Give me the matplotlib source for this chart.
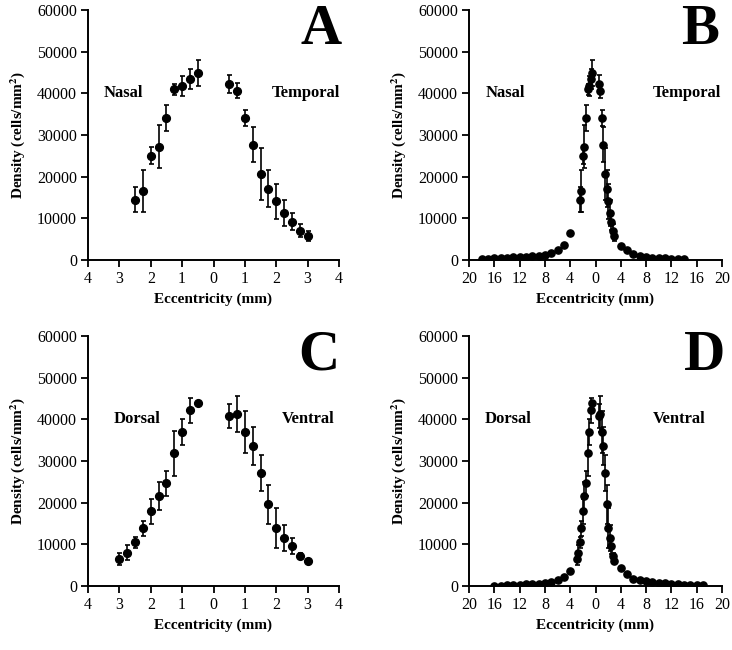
import matplotlib.pyplot as plt
from matplotlib.ticker import FuncFormatter

plt.rcParams['font.family'] = ['Liberation Serif', 'DejaVu Serif']
plt.rcParams['mathtext.fontset'] = 'stix'

# Panel A: nasal (negative) / temporal (positive), central retina
a_x = [-2.5, -2.25, -2.0, -1.75, -1.5, -1.25, -1.0, -0.75, -0.5,
       0.5, 0.75, 1.0, 1.25, 1.5, 1.75, 2.0, 2.25, 2.5, 2.75, 3.0]
a_y = [14480, 16560, 25040, 27200, 34080, 40960, 41760, 43360, 44960,
       42240, 40640, 34160, 27680, 20720, 17120, 14080, 11200, 9200, 7040, 5760]
a_err = [3000, 5000, 2100, 5200, 3200, 1400, 2400, 2400, 3100,
         2100, 1800, 1900, 4200, 6200, 4400, 4200, 3100, 2100, 1500, 1200]

# Panel B: peripheral points added to the panel A data
b_left_x = [-18, -17, -16, -15, -14, -13, -12, -11, -10, -9, -8, -7, -6, -5, -4]
b_left_y = [320, 240, 400, 480, 560, 640, 720, 800, 960, 1040, 1280, 1600, 2400, 3680, 6400]
b_right_x = [4, 5, 6, 7, 8, 9, 10, 11, 12, 13, 14]
b_right_y = [3360, 2320, 1360, 960, 720, 560, 480, 400, 320, 240, 160]

# Panel C: dorsal (negative) / ventral (positive)
c_x = [-3.0, -2.75, -2.5, -2.25, -2.0, -1.75, -1.5, -1.25, -1.0, -0.75, -0.5,
       0.5, 0.75, 1.0, 1.25, 1.5, 1.75, 2.0, 2.25, 2.5, 2.75, 3.0]
c_y = [6480, 8000, 10480, 13920, 17920, 21600, 24720, 31920, 37040, 42160, 43920,
       40800, 41280, 37040, 33600, 27200, 19600, 13840, 11520, 9520, 7280, 5920]
c_err = [1400, 1800, 1300, 1800, 3000, 3400, 3000, 5400, 3100, 3000, 500,
         2900, 4300, 5000, 4500, 4300, 4600, 4800, 3100, 1900, 700, 600]

# Panel D: peripheral points added to the panel C data
d_left_x = [-16, -15, -14, -13, -12, -11, -10, -9, -8, -7, -6, -5, -4]
d_left_y = [80, 80, 160, 240, 320, 400, 480, 560, 720, 1040, 1440, 2160, 3680]
d_right_x = [4, 5, 6, 7, 8, 9, 10, 11, 12, 13, 14, 15, 16, 17]
d_right_y = [4400, 2800, 1680, 1360, 1200, 960, 800, 640, 480, 400, 320, 240, 160, 320]

fig = plt.figure(figsize=(7.32, 6.5), dpi=100)
W, H = 732, 650


def add_ax(l, r, t, b):
    return fig.add_axes([l / W, 1 - b / H, (r - l) / W, (b - t) / H])


axA = add_ax(88, 339, 10, 260)
axB = add_ax(469, 722, 10, 260)
axC = add_ax(88, 339, 336, 586)
axD = add_ax(469, 722, 336, 586)

absfmt = FuncFormatter(lambda v, p: '%d' % abs(round(v)))


def style(ax, lim, ticks, letter, lx):
    ax.set_xlim(-lim, lim)
    ax.set_xticks(ticks)
    ax.xaxis.set_major_formatter(absfmt)
    ax.set_ylim(0, 60000)
    ax.set_yticks(range(0, 60001, 10000))
    for s in ['top', 'right']:
        ax.spines[s].set_visible(False)
    for s in ['left', 'bottom']:
        ax.spines[s].set_linewidth(1.4)
    ax.tick_params(direction='out', length=5, width=1.3, labelsize=11.5, pad=3)
    ax.set_xlabel('Eccentricity (mm)', fontsize=11, fontweight='bold', labelpad=4)
    ax.set_ylabel(r'Density (cells/mm$^\mathbf{2}$)', fontsize=11, fontweight='bold', labelpad=7)
    ax.text(lx, 0.92, letter, transform=ax.transAxes, fontsize=41, fontweight='bold',
            ha='center', va='center')


def lab(ax, x, s):
    ax.text(x, 40000, s, fontsize=12, fontweight='bold', ha='center', va='center')


def pts(ax, x, y, err, ms):
    ax.errorbar(x, y, yerr=err, fmt='o', color='black', ms=ms, elinewidth=1.2,
                capsize=1.8, capthick=1.2)


pts(axA, a_x, a_y, a_err, 5.6)
style(axA, 4, range(-4, 5), 'A', 0.93)
lab(axA, -2.87, 'Nasal')
lab(axA, 2.96, 'Temporal')

pts(axB, b_left_x, b_left_y, None, 5.2)
pts(axB, a_x, a_y, a_err, 5.2)
pts(axB, b_right_x, b_right_y, None, 5.2)
style(axB, 20, range(-20, 21, 4), 'B', 0.913)
lab(axB, -14.3, 'Nasal')
lab(axB, 14.4, 'Temporal')

pts(axC, c_x, c_y, c_err, 5.6)
style(axC, 4, range(-4, 5), 'C', 0.92)
lab(axC, -2.42, 'Dorsal')
lab(axC, 3.03, 'Ventral')

pts(axD, d_left_x, d_left_y, None, 5.2)
pts(axD, c_x, c_y, c_err, 5.2)
pts(axD, d_right_x, d_right_y, None, 5.2)
style(axD, 20, range(-20, 21, 4), 'D', 0.933)
lab(axD, -13.8, 'Dorsal')
lab(axD, 13.2, 'Ventral')

fig.savefig('out.png', dpi=100)
